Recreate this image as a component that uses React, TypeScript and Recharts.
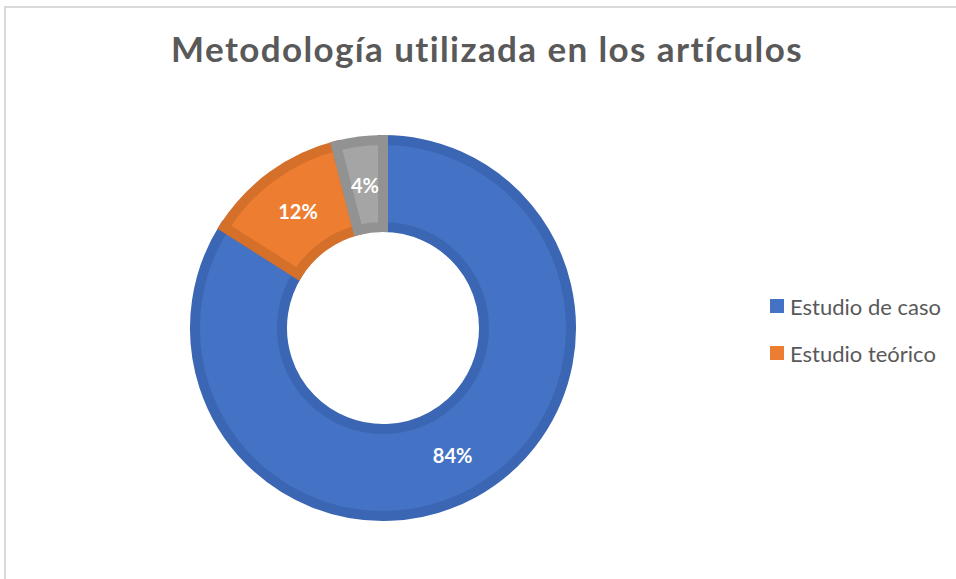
import React from "react";
import { PieChart, Pie, Cell } from "recharts";

const categories = ["Estudio de caso", "Estudio teórico", "Otro"];
const values = [84, 12, 4];
const fills = ["#4472C4", "#ED7D31", "#A5A5A5"];
const strokes = ["#3B66B3", "#D5702B", "#929292"];
const legendItems = ["Estudio de caso", "Estudio teórico"];

const data = categories.map((name, i) => ({ name, value: values[i] }));

const FONT = "Lato, 'Open Sans', sans-serif";
const RAD = Math.PI / 180;

const renderLabel = (props: any) => {
  const { cx, cy, midAngle, innerRadius, outerRadius, percent } = props;
  const r = (innerRadius + outerRadius) / 2;
  const x = cx + r * Math.cos(-midAngle * RAD);
  const y = cy + r * Math.sin(-midAngle * RAD);
  return (
    <text
      x={x}
      y={y}
      fill="#FFFFFF"
      textAnchor="middle"
      dominantBaseline="central"
      fontFamily={FONT}
      fontWeight={700}
      fontSize={20}
    >
      {`${Math.round(percent * 100)}%`}
    </text>
  );
};

export default function App() {
  return (
    <div style={{ position: "fixed", left: 0, top: 0, width: 956, height: 579, background: "#fff", overflow: "hidden" }}>
      <div
        style={{
          position: "absolute",
          left: 4,
          top: 6,
          width: 1000,
          height: 600,
          borderLeft: "2px solid #D9D9D9",
          borderTop: "2px solid #D9D9D9",
        }}
      />
      <div
        style={{
          position: "absolute",
          left: 0,
          width: 974,
          top: 27,
          textAlign: "center",
          fontFamily: FONT,
          fontWeight: 700,
          fontSize: 35,
          color: "#595959",
          letterSpacing: 1.4,
        }}
      >
        Metodología utilizada en los artículos
      </div>
      <div style={{ position: "absolute", left: 0, top: 0 }}>
        <PieChart width={956} height={579} margin={{ top: 0, right: 0, bottom: 0, left: 0 }}>
          <Pie
            data={data}
            dataKey="value"
            nameKey="name"
            cx={383}
            cy={328}
            innerRadius={101}
            outerRadius={188}
            startAngle={90}
            endAngle={-270}
            stroke="none"
            label={renderLabel}
            labelLine={false}
            isAnimationActive={false}
          >
            {data.map((d, i) => (
              <Cell key={d.name} fill={fills[i]} stroke={strokes[i]} strokeWidth={10} strokeLinejoin="miter" />
            ))}
          </Pie>
        </PieChart>
      </div>
      {legendItems.map((name, i) => (
        <div
          key={name}
          style={{
            position: "absolute",
            left: 770,
            top: 292 + i * 47,
            height: 28,
            display: "flex",
            alignItems: "center",
            fontFamily: FONT,
            fontSize: 22,
            color: "#595959",
          }}
        >
          <span style={{ display: "inline-block", width: 14, height: 14, background: fills[i], marginRight: 6 }} />
          <span>{name}</span>
        </div>
      ))}
    </div>
  );
}
